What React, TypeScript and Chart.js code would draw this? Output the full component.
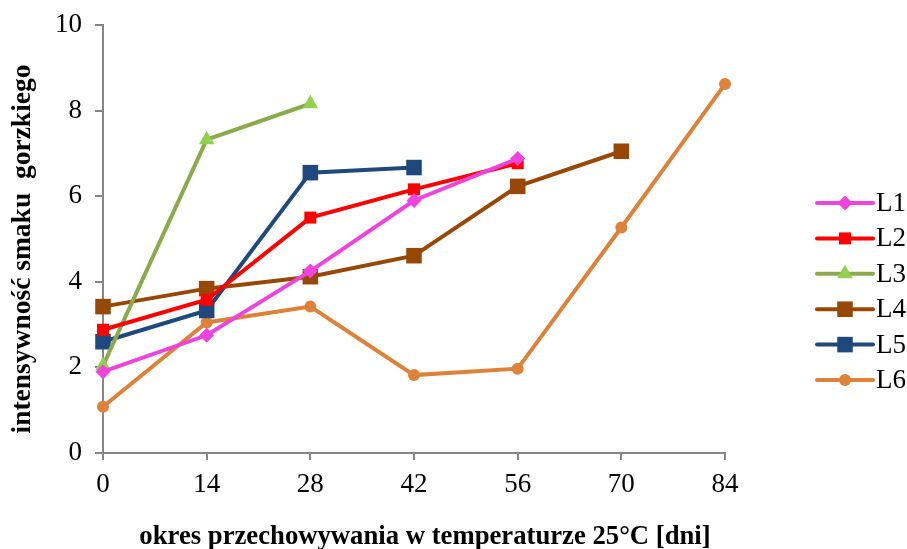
import React, { useEffect, useRef } from 'react';
import { Chart, registerables } from 'chart.js';

Chart.register(...registerables);

const days = [0, 14, 28, 42, 56, 70, 84];
const yTickValues = [0, 2, 4, 6, 8, 10];
const seriesNames = ['L1', 'L2', 'L3', 'L4', 'L5', 'L6'];
const L1 = [1.9, 2.75, 4.25, 5.9, 6.88];
const L2 = [2.88, 3.58, 5.5, 6.16, 6.77];
const L3 = [2.04, 7.32, 8.16];
const L4 = [3.42, 3.84, 4.12, 4.61, 6.23, 7.05];
const L5 = [2.6, 3.33, 6.55, 6.67];
const L6 = [1.08, 3.05, 3.42, 1.82, 1.97, 5.27, 8.62];
const xTitle = 'okres przechowywania w temperaturze 25°C [dni]';
const yTitle = 'intensywność smaku  gorzkiego';

const FONT = "'Liberation Serif', 'Times New Roman', serif";

const styles = [
  { line: '#EE44DD', fill: '#EE44DD', shape: 'rectRot', radius: 7.5 },
  { line: '#FF0000', fill: '#FF0000', shape: 'rect', radius: 8.5 },
  { line: '#8BAA4A', fill: '#92D050', shape: 'triangle', radius: 9 },
  { line: '#974806', fill: '#974806', shape: 'rect', radius: 11 },
  { line: '#1F497D', fill: '#1F497D', shape: 'rect', radius: 11 },
  { line: '#DE8139', fill: '#DE8139', shape: 'circle', radius: 6 },
];

const allSeries = [L1, L2, L3, L4, L5, L6];

function drawMarker(ctx: CanvasRenderingContext2D, shape: string, x: number, y: number, r: number, color: string) {
  ctx.save();
  ctx.fillStyle = color;
  ctx.beginPath();
  if (shape === 'circle') {
    ctx.arc(x, y, r, 0, Math.PI * 2);
  } else if (shape === 'rect') {
    const s = r * Math.SQRT1_2;
    ctx.rect(x - s, y - s, 2 * s, 2 * s);
  } else if (shape === 'rectRot') {
    ctx.moveTo(x, y - r);
    ctx.lineTo(x + r, y);
    ctx.lineTo(x, y + r);
    ctx.lineTo(x - r, y);
    ctx.closePath();
  } else if (shape === 'triangle') {
    const side = (3 * r) / Math.sqrt(3);
    const h = (side * Math.sqrt(3)) / 2;
    ctx.moveTo(x, y - (2 * h) / 3);
    ctx.lineTo(x + side / 2, y + h / 3);
    ctx.lineTo(x - side / 2, y + h / 3);
    ctx.closePath();
  }
  ctx.fill();
  ctx.restore();
}

const legendPlugin = {
  id: 'customLegend',
  afterDraw(chart: any) {
    const ctx = chart.ctx as CanvasRenderingContext2D;
    const x0 = 817;
    const x1 = 873;
    const startY = 203;
    const step = 35.4;
    ctx.save();
    seriesNames.forEach((name, i) => {
      const st = styles[i];
      const y = startY + i * step;
      ctx.strokeStyle = st.line;
      ctx.lineWidth = 4;
      ctx.lineCap = 'round';
      ctx.beginPath();
      ctx.moveTo(x0, y);
      ctx.lineTo(x1, y);
      ctx.stroke();
      drawMarker(ctx, st.shape, (x0 + x1) / 2, y, st.radius, st.fill);
      ctx.fillStyle = '#000';
      ctx.font = `27px ${FONT}`;
      ctx.textBaseline = 'middle';
      ctx.textAlign = 'left';
      ctx.fillText(name, 876, y + 1);
    });
    ctx.restore();
  },
};

const titlesPlugin = {
  id: 'axisTitles',
  afterDraw(chart: any) {
    const ctx = chart.ctx as CanvasRenderingContext2D;
    ctx.save();
    ctx.fillStyle = '#000';
    ctx.textBaseline = 'alphabetic';
    ctx.textAlign = 'center';
    ctx.font = `bold 26.7px ${FONT}`;
    ctx.fillText(xTitle, 425, 544);
    ctx.translate(30, 249);
    ctx.rotate(-Math.PI / 2);
    ctx.font = `bold 27.5px ${FONT}`;
    ctx.fillText(yTitle, 0, 0);
    ctx.restore();
  },
};

export default function App() {
  const ref = useRef<HTMLCanvasElement | null>(null);

  useEffect(() => {
    if (!ref.current) return;
    const datasets = allSeries.map((vals, i) => ({
      label: seriesNames[i],
      data: vals.map((v, j) => ({ x: days[j], y: v })),
      borderColor: styles[i].line,
      backgroundColor: styles[i].fill,
      pointBackgroundColor: styles[i].fill,
      pointBorderColor: styles[i].fill,
      pointBorderWidth: 0,
      pointStyle: styles[i].shape,
      pointRadius: styles[i].radius,
      borderWidth: 4,
      tension: 0,
      fill: false,
      clip: false as any,
    }));
    const chart = new Chart(ref.current, {
      type: 'line',
      data: { datasets },
      plugins: [legendPlugin, titlesPlugin],
      options: {
        animation: false,
        responsive: false,
        maintainAspectRatio: false,
        layout: { padding: { left: 0, right: 182, top: 25, bottom: 0 } },
        plugins: { legend: { display: false }, tooltip: { enabled: false } },
        scales: {
          x: {
            type: 'linear',
            min: 0,
            max: 84,
            afterBuildTicks: (scale: any) => {
              scale.ticks = days.map((d) => ({ value: d }));
            },
            afterFit: (scale: any) => {
              scale.height = 96;
              scale.paddingLeft = 0;
              scale.paddingRight = 0;
            },
            grid: { display: true, drawOnChartArea: false, drawTicks: true, tickLength: 7, color: '#868686', lineWidth: 2 },
            border: { display: true, color: '#868686', width: 2 },
            ticks: { color: '#000', font: { family: FONT, size: 27 }, padding: 9, maxRotation: 0 },
            title: { display: false },
          },
          y: {
            type: 'linear',
            min: 0,
            max: 10,
            afterBuildTicks: (scale: any) => {
              scale.ticks = yTickValues.map((v) => ({ value: v }));
            },
            afterFit: (scale: any) => {
              scale.width = 103;
              scale.paddingTop = 0;
              scale.paddingBottom = 0;
            },
            grid: { display: true, drawOnChartArea: false, drawTicks: true, tickLength: 8, color: '#868686', lineWidth: 2 },
            border: { display: true, color: '#868686', width: 2 },
            ticks: { color: '#000', font: { family: FONT, size: 27 }, padding: 13 },
            title: { display: false },
          },
        },
      },
    });
    return () => chart.destroy();
  }, []);

  return (
    <div style={{ position: 'absolute', left: 0, top: 0, width: 907, height: 549, background: '#fff' }}>
      <canvas ref={ref} width={907} height={549} style={{ width: 907, height: 549, display: 'block' }} />
    </div>
  );
}
